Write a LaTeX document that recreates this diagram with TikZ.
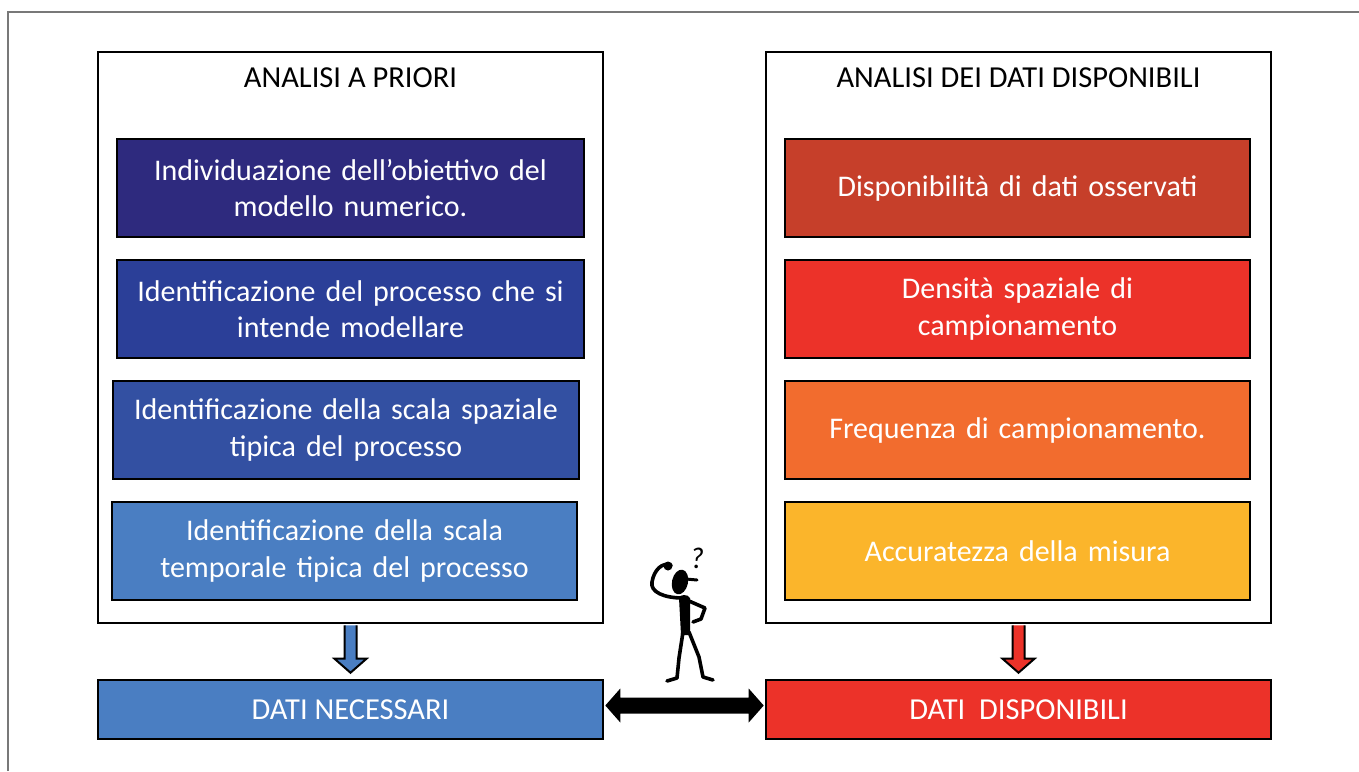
\documentclass[tikz,border=0pt]{standalone}
\usepackage{fontspec}
\setmainfont{Carlito}
\usetikzlibrary{calc}
\definecolor{cA}{RGB}{46,42,126}
\definecolor{cB}{RGB}{43,63,152}
\definecolor{cC}{RGB}{51,80,162}
\definecolor{cD}{RGB}{74,126,194}
\definecolor{cE}{RGB}{198,63,42}
\definecolor{cF}{RGB}{236,50,41}
\definecolor{cG}{RGB}{242,108,46}
\definecolor{cH}{RGB}{251,181,43}
\definecolor{frame}{RGB}{120,120,120}
\tikzset{
  panel/.style={draw=black, line width=2.6pt, fill=white, minimum width=505pt, minimum height=571pt, inner sep=0pt},
  ptitle/.style={font=\fontsize{30.5}{36}\selectfont, text=black},
  card/.style={draw=black, line width=2.6pt, text=white, align=center, text width=455pt, inner sep=0pt,
    minimum height=98pt, font=\fontsize{30}{36.5}\selectfont},
  result/.style={draw=black, line width=2.6pt, text=white, minimum width=505pt, minimum height=59pt, inner sep=0pt,
    font=\fontsize{30.5}{36}\selectfont},
  blockarrow/.style={draw=black, line width=2pt, line join=miter},
  stick/.style={line width=3.6pt, line cap=round, line join=round}
}
\begin{document}
\begin{tikzpicture}[x=1pt, y=-1pt]
\useasboundingbox (0,0) rectangle (1359,771);
\fill[white] (0,0) rectangle (1359,771);
% outer frame (only top and left edges fall inside the page)
\draw[frame, line width=1.3pt] (8,771) -- (8,12) -- (1359,12);

% panels
\node[panel] (lp) at (350.5,337.5) {};
\node[panel] (rp) at (1018.5,337.5) {};
\node[ptitle] (lt) at (350.5,78) {ANALISI A PRIORI};
\node[ptitle] (rt) at (1018.5,78) {ANALISI DEI DATI DISPONIBILI};

% a priori cards
\node[card, fill=cA, minimum width=467pt] (l1) at (350.5,188) {Individuazione dell’obiettivo del\\modello numerico.};
\node[card, fill=cB, minimum width=467pt] (l2) at (350.5,309) {Identificazione del processo che si\\intende modellare};
\node[card, fill=cC, minimum width=466pt] (l3) at (346,430) {Identificazione della scala spaziale\\tipica del processo};
\node[card, fill=cD, minimum width=465pt] (l4) at (344.5,551) {Identificazione della scala\\temporale tipica del processo};

% available data cards
\node[card, fill=cE, minimum width=465pt] (r1) at (1017.5,188) {Disponibilità di dati osservati};
\node[card, fill=cF, minimum width=465pt] (r2) at (1017.5,309) {Densità spaziale di\\campionamento};
\node[card, fill=cG, minimum width=465pt] (r3) at (1017.5,430) {Frequenza di campionamento.};
\node[card, fill=cH, minimum width=465pt] (r4) at (1017.5,551) {Accuratezza della misura};

% results
\node[result, fill=cD] (ln) at (350.5,709.5) {DATI NECESSARI};
\node[result, fill=cF] (rn) at (1018.5,709.5) {DATI\ \ DISPONIBILI};

% down block arrows
\foreach \p/\n/\c in {lp/ln/cD, rp/rn/cF}{
  \draw[blockarrow, fill=\c]
    ($(\p.south)+(-6,1)$) -- ($(\n.north)+(-6,-20)$) -- ($(\n.north)+(-16,-20)$)
    -- ($(\n.north)+(0,-6)$) -- ($(\n.north)+(16,-20)$) -- ($(\n.north)+(6,-20)$)
    -- ($(\p.south)+(6,1)$);
}

% double arrow between results
\fill[black]
  ($(ln.east)+(1,-4)$) -- ($(ln.east)+(16,-21)$) -- ($(ln.east)+(16,-12)$)
  -- ($(rn.west)+(-16,-12)$) -- ($(rn.west)+(-16,-21)$) -- ($(rn.west)+(-1,-4)$)
  -- ($(rn.west)+(-16,13)$) -- ($(rn.west)+(-16,4)$)
  -- ($(ln.east)+(16,4)$) -- ($(ln.east)+(16,13)$) -- cycle;

% puzzled stick figure
\fill[black, rotate around={-12:(680,582)}] (680,582) ellipse (8pt and 12.5pt);
\draw[stick, line width=3pt] (686,579) -- (697,580);
\draw[stick] (683,598) .. controls (664,598) and (650,592) .. (652,582)
  .. controls (654,570) and (662,562) .. (671,565);
\fill[black] (668,566) circle (4.5pt);
\fill[black] (679,598) .. controls (680,594) and (688,594) .. (690,598)
  -- (690,635) -- (681,635) -- cycle;
\draw[stick] (689,601) -- (705,608) -- (701,619) -- (693,622);
\draw[stick] (683,632) -- (679,658) -- (677,678) -- (667,681);
\draw[stick] (689,632) -- (699,657) -- (703,677) -- (713,680);
\node[font=\itshape\fontsize{30}{30}\selectfont] (qm) at (697,558) {?};
\end{tikzpicture}
\end{document}
